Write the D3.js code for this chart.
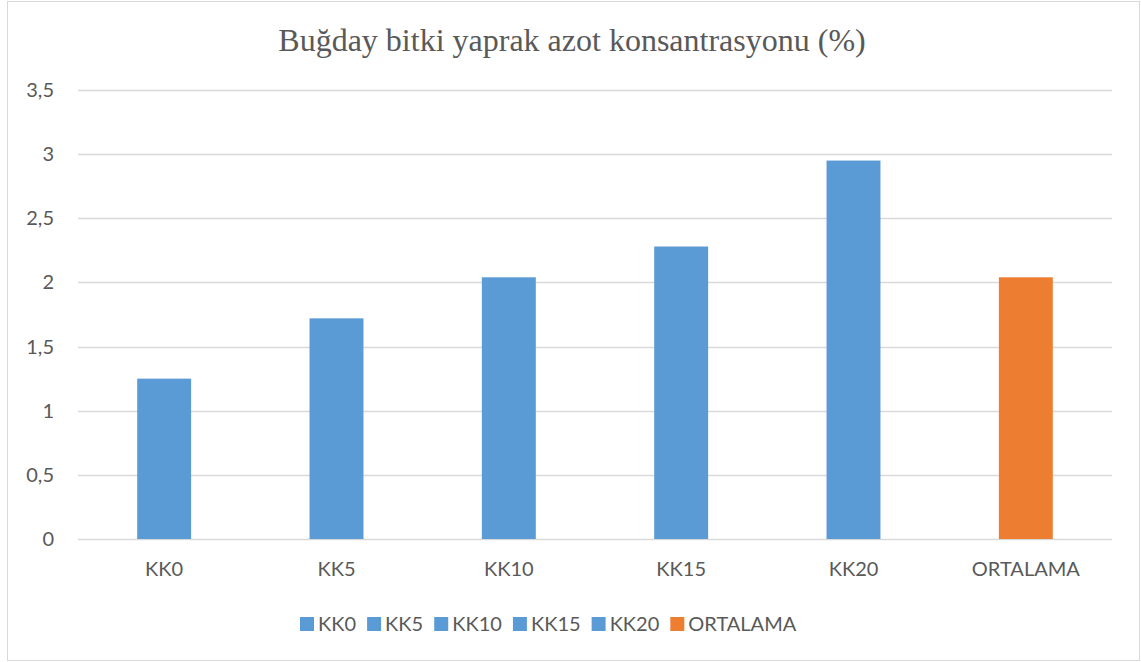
<!DOCTYPE html>
<html>
<head>
<meta charset="utf-8">
<script src="https://cdn.jsdelivr.net/npm/d3@7"></script>
<style>
  body { margin: 0; background: #fff; }
  svg { display: block; }
</style>
</head>
<body>
<svg id="chart"></svg>
<script>
// chart data
const categories = ["KK0", "KK5", "KK10", "KK15", "KK20", "ORTALAMA"];
const values = [1.25, 1.72, 2.04, 2.28, 2.95, 2.04];
const barColors = ["#5b9bd5", "#5b9bd5", "#5b9bd5", "#5b9bd5", "#5b9bd5", "#ed7d31"];
const yTicks = [0, 0.5, 1, 1.5, 2, 2.5, 3, 3.5];
const title = "Buğday bitki yaprak azot konsantrasyonu (%)";

const width = 1141;
const height = 662;
const marginLeft = 78;
const marginRight = 29;
const marginTop = 90;
const plotBottom = 539;

const sans = "Lato, 'Open Sans', sans-serif";
const fontSize = 20;
const textColor = "#595959";

const svg = d3.select("#chart")
    .attr("width", width)
    .attr("height", height);

// outer frame
svg.append("rect")
    .attr("x", 7.5).attr("y", 1.5)
    .attr("width", 1132).attr("height", 659)
    .attr("fill", "#fff")
    .attr("stroke", "#d9d9d9");

const x = d3.scaleBand()
    .domain(categories)
    .range([marginLeft, width - marginRight])
    .padding(0);

const y = d3.scaleLinear()
    .domain([0, 3.5])
    .range([plotBottom, marginTop]);

const fmt = d => String(d).replace(".", ",");

// grid lines
svg.append("g")
    .selectAll("line")
    .data(yTicks)
    .join("line")
    .attr("x1", marginLeft)
    .attr("x2", width - marginRight)
    .attr("y1", d => Math.round(y(d)) + 0.5)
    .attr("y2", d => Math.round(y(d)) + 0.5)
    .attr("stroke", "#d9d9d9")
    .attr("stroke-width", 1.3);

// y tick labels
svg.append("g")
    .selectAll("text")
    .data(yTicks)
    .join("text")
    .attr("x", 54)
    .attr("y", d => y(d))
    .attr("dy", "0.35em")
    .attr("text-anchor", "end")
    .attr("font-family", sans)
    .attr("font-size", fontSize)
    .attr("fill", textColor)
    .text(fmt);

// bars
const barW = x.bandwidth() * 0.313;
svg.append("g")
    .selectAll("rect")
    .data(values)
    .join("rect")
    .attr("x", (d, i) => x(categories[i]) + (x.bandwidth() - barW) / 2)
    .attr("y", d => y(d))
    .attr("width", barW)
    .attr("height", d => y(0) - y(d))
    .attr("fill", (d, i) => barColors[i]);

// x axis labels
const xAxis = svg.append("g")
    .attr("transform", `translate(0,${plotBottom})`)
    .call(d3.axisBottom(x).tickSize(0).tickPadding(23));
xAxis.select(".domain").remove();
xAxis.selectAll("text")
    .attr("font-family", sans)
    .attr("font-size", fontSize)
    .attr("fill", textColor);

// title
svg.append("text")
    .attr("x", 572)
    .attr("y", 51)
    .attr("text-anchor", "middle")
    .attr("font-family", "'Liberation Serif', 'Times New Roman', serif")
    .attr("font-size", 32)
    .attr("fill", textColor)
    .text(title);

// legend, laid out left to right from measured text widths
const legend = svg.append("g").attr("transform", "translate(300,624)");
let lx = 0;
categories.forEach((c, i) => {
    const item = legend.append("g").attr("transform", `translate(${lx},0)`);
    item.append("rect")
        .attr("x", 0).attr("y", -7)
        .attr("width", 14).attr("height", 14)
        .attr("fill", barColors[i]);
    const t = item.append("text")
        .attr("x", 18)
        .attr("dy", "0.35em")
        .attr("font-family", sans)
        .attr("font-size", fontSize)
        .attr("fill", textColor)
        .text(c);
    lx += 18 + t.node().getComputedTextLength() + 11;
});
</script>
</body>
</html>
